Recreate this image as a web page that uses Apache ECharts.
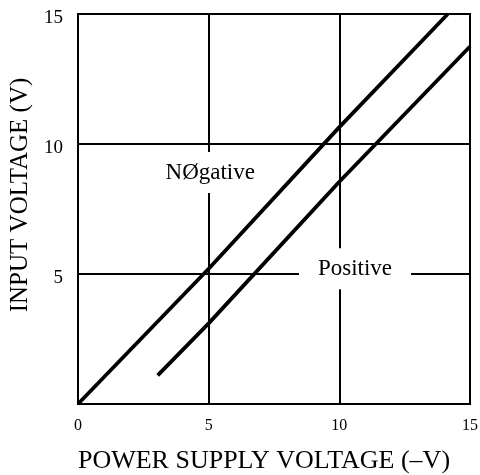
<!DOCTYPE html>
<html>
<head>
<meta charset="utf-8">
<script src="https://cdn.jsdelivr.net/npm/echarts@6/dist/echarts.min.js"></script>
<style>
  html, body { margin: 0; padding: 0; background: #fff; }
  #chart { width: 480px; height: 475px; }
</style>
</head>
<body>
<div id="chart"></div>
<script>
// values
const xTicks = [0, 5, 10, 15]
const yTicks = [0, 5, 10, 15]
const negativeData = [[0, 0], [5, 5.2], [10, 10.65], [14.15, 15]]
const positiveData = [[3.05, 1.1], [5, 3.1], [10, 8.55], [15, 13.75]]
const curveLabels = [
    { name: 'NØgative', pos: [5.06, 8.9] },
    { name: 'Positive', pos: [10.6, 5.2] }
]

const serif = '"Liberation Serif", "DejaVu Serif", serif'
const chart = echarts.init(document.getElementById('chart'))

const option = {
    backgroundColor: '#fff',
    animation: false,
    grid: {
        left: 78, right: 10, top: 14, bottom: 71,
        outerBoundsMode: 'none', containLabel: false,
        show: true, borderColor: '#000', borderWidth: 2
    },
    xAxis: {
        type: 'value', min: 0, max: 15, interval: 5,
        name: 'POWER SUPPLY VOLTAGE (–V)',
        nameLocation: 'middle', nameGap: 44,
        nameTextStyle: { fontFamily: serif, fontSize: 26, color: '#000', padding: [0, 20, 0, 0] },
        axisLine: { show: true, lineStyle: { color: '#000', width: 2 } },
        axisTick: { show: false },
        axisLabel: {
            fontFamily: serif, fontSize: 16, color: '#000', margin: 14,
            formatter: v => xTicks.includes(v) ? String(v) : ''
        },
        splitLine: { show: true, lineStyle: { color: '#000', width: 2 } }
    },
    yAxis: {
        type: 'value', min: 0, max: 15, interval: 5,
        name: 'INPUT VOLTAGE (V)',
        nameLocation: 'middle', nameGap: 45,
        nameTextStyle: { fontFamily: serif, fontSize: 25, color: '#000', padding: [0, 0, 0, 28] },
        axisLine: { show: true, lineStyle: { color: '#000', width: 2 } },
        axisTick: { show: false },
        axisLabel: {
            color: '#000', margin: 15,
            formatter: v => (v !== 0 && yTicks.includes(v)) ? '{t|' + v + '}' : '',
            rich: {
                t: { fontFamily: serif, fontSize: 19, color: '#000', padding: [8, 0, 0, 0] }
            }
        },
        splitLine: { show: true, lineStyle: { color: '#000', width: 2 } }
    },
    series: [
        {
            name: 'Negative', type: 'line', data: negativeData,
            symbol: 'none', smooth: false,
            lineStyle: { color: '#000', width: 3.8 }
        },
        {
            name: 'Positive', type: 'line', data: positiveData,
            symbol: 'none', smooth: false,
            lineStyle: { color: '#000', width: 3.8 }
        },
        {
            name: 'labels', type: 'scatter', symbolSize: 0, z: 5,
            itemStyle: { opacity: 1 },
            data: curveLabels.map((d, i) => ({
                name: d.name, value: d.pos,
                label: { padding: i === 0 ? [10, 14, 8, 14] : [10, 19, 8, 19] }
            })),
            label: {
                show: true, position: 'inside',
                formatter: p => p.name,
                fontFamily: serif, fontSize: 23, color: '#000',
                backgroundColor: '#fff'
            }
        }
    ]
}

chart.setOption(option)
</script>
</body>
</html>
